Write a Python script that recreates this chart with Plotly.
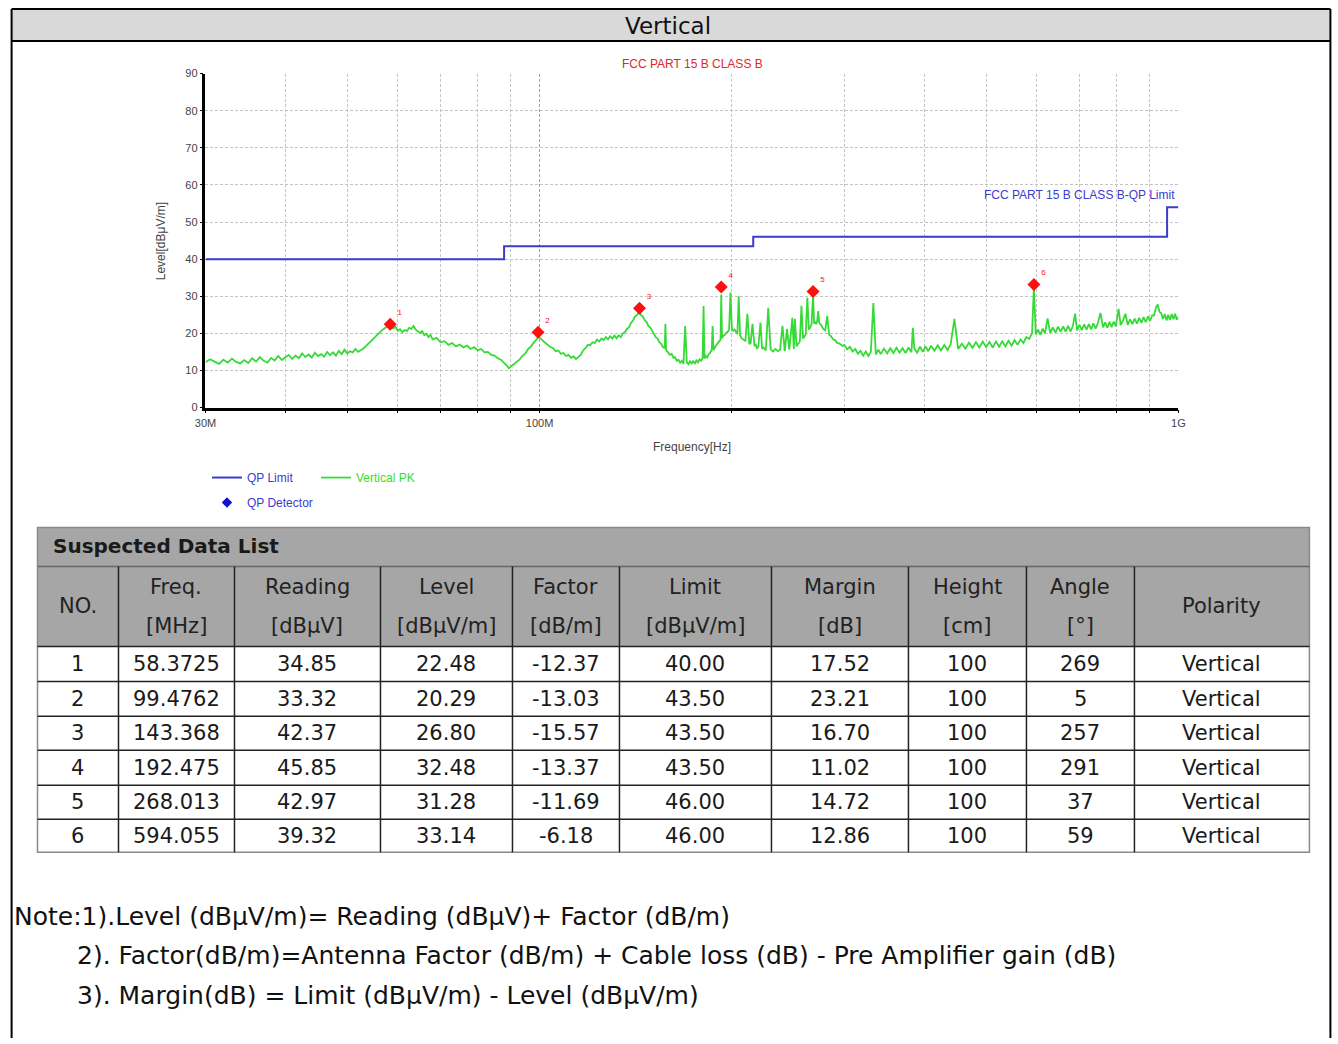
import plotly.graph_objects as go

W, H = 1338, 1044

# ---------------- data ----------------
# Peak scan (Vertical PK), MHz / dBuV/m
pk_freq_a = [30.0, 30.5, 31.0, 31.5, 32.0, 32.5, 33.0, 33.5, 34.0, 34.5, 35.0, 35.5, 36.0, 36.5, 37.0, 37.5,
             38.0, 38.5, 39.0, 39.5, 40.0, 40.5, 41.0, 41.5, 42.0, 42.5, 43.0, 43.5, 44.0, 44.5, 45.0, 45.5,
             46.0, 46.5, 47.0, 47.5, 48.0, 48.5, 49.0, 49.5, 50.0,
             50.5, 51, 51.5, 52, 52.5, 53, 53.5, 54, 54.5, 55, 55.5, 56, 56.5, 57, 57.5, 58, 58.4, 59, 59.5, 60,
             60.5, 61, 61.5, 62, 62.5, 63, 63.5, 64, 64.5, 65, 65.5, 66, 66.5, 67, 67.5, 68, 69, 70, 71, 72,
             73, 74, 75, 76, 77, 78, 79, 80, 81, 82, 83, 84, 85, 86, 87, 88, 89, 89.5, 90, 91,
             92, 93, 94, 95, 96, 97, 98, 99, 99.5]
pk_level_a = [12.2, 13.0, 12.4, 11.8, 12.9, 12.1, 13.2, 12.3, 11.9, 12.8, 12.0, 13.3, 12.4, 13.6, 12.6, 12.1,
              13.4, 12.7, 13.9, 12.8, 13.5, 14.2, 13.1, 14.0, 13.3, 14.6, 13.6, 14.3, 13.5, 14.8, 13.9, 14.4,
              13.7, 15.0, 14.1, 14.9, 14.0, 15.3, 14.4, 15.6, 14.6,
              15.2, 14.9, 15.8, 15.0, 15.4, 15.9, 16.6, 17.2, 17.9, 18.6, 19.3, 20.1, 20.6, 21.2, 21.6, 22.0, 22.4, 21.3, 21.8, 20.7,
              21.1, 20.3, 20.9, 20.6, 21.5, 21.2, 22.0, 21.0, 20.6, 20.1, 20.6, 19.5, 19.9, 19.0, 19.6, 18.4, 18.8, 17.6, 17.9, 16.9,
              17.4, 16.5, 17.0, 16.2, 16.7, 15.8, 16.3, 15.4, 15.8, 14.9, 15.0, 14.2, 14.0, 13.3, 12.9, 12.1, 11.2, 10.6, 10.9, 11.5,
              12.3, 12.9, 13.9, 14.6, 15.8, 16.5, 17.6, 18.4, 19.1]

pk_freq_b = [100.5, 101.5, 102.5, 104, 105, 106, 107, 108, 109, 110, 111, 112, 113, 114, 115, 116, 117, 118, 119, 120,
             121, 122, 123, 124, 125, 126, 127, 128, 129, 130, 131, 132, 133, 134, 135, 136, 137, 138, 139, 140,
             141, 142, 143.4, 144, 145, 146, 147, 148, 149, 150, 151, 152, 153, 154, 155, 156, 157, 157.4, 157.8, 159,
             160, 161, 162, 163, 164, 165, 166, 167, 168, 169, 170, 171, 172, 173, 174, 175, 176, 177, 178, 179,
             180, 180.6, 181.2, 182, 183, 184, 185, 186, 186.6, 187.2, 188, 189, 190, 191, 192, 192.5, 193, 194, 195, 196,
             197, 198, 199, 200, 201, 202, 203, 204, 205, 206, 207, 208, 209, 210, 211.5, 213, 214, 215.4, 217, 218,
             219, 220, 221.7, 223, 224, 226, 228, 230, 232, 234, 236, 238, 240, 242, 244, 246, 248.7, 250, 251, 252.5,
             254, 255.5, 257, 258.5, 260, 261, 262.5, 264, 265.5, 266.5, 268, 269, 270, 271, 272, 273, 274, 276, 278, 280,
             282, 284, 286, 288, 290, 292, 295, 298]
pk_level_b = [18.6, 17.8, 17.2, 16.3, 16.0, 15.2, 15.4, 14.5, 14.7, 13.9, 14.2, 13.4, 13.8, 13.1, 13.6, 14.2, 15.4, 16.0, 16.9, 16.8,
              17.6, 17.4, 18.3, 17.8, 18.6, 18.2, 19.0, 18.4, 19.2, 18.6, 19.4, 18.7, 19.5, 19.0, 20.0, 20.3, 21.2, 21.6, 22.8, 23.4,
              24.5, 24.9, 25.8, 25.0, 24.6, 23.6, 23.1, 22.0, 21.6, 20.6, 20.0, 19.0, 18.6, 17.6, 17.2, 16.3, 16.0, 22.6, 15.5, 14.9,
              14.2, 14.5, 13.4, 13.6, 12.6, 12.9, 12.1, 12.6, 11.8, 22.0, 12.2, 11.7, 12.5, 11.9, 12.6, 11.8, 12.7, 12.2, 13.0, 12.6,
              13.4, 27.4, 13.2, 13.9, 13.5, 14.4, 14.8, 15.6, 22.0, 15.5, 16.2, 16.8, 17.3, 17.8, 18.3, 30.5, 18.7, 19.4, 19.6, 20.2,
              20.4, 21.0, 31.0, 21.2, 20.7, 21.0, 20.2, 19.8, 30.0, 19.5, 18.8, 18.5, 18.0, 17.9, 25.3, 17.1, 17.4, 22.6, 16.6, 16.9,
              16.0, 16.4, 22.9, 15.8, 16.2, 15.4, 26.9, 15.7, 15.1, 15.8, 15.2, 15.6, 22.0, 15.2, 21.2, 15.6, 24.2, 15.8, 23.9, 16.5,
              17.2, 17.8, 27.4, 18.6, 19.2, 19.8, 29.6, 21.0, 21.8, 22.4, 30.5, 22.6, 23.2, 22.5, 23.4, 26.0, 22.8, 22.2, 21.2, 20.8,
              24.7, 19.6, 19.2, 18.4, 18.2, 17.5, 17.2, 16.6]

pk_freq_c = [300, 303, 306, 309, 312, 315, 318, 321, 324, 327, 330, 333, 336, 339, 342, 346, 350, 354, 358, 362,
             366, 370, 374, 378, 382, 384, 386, 390, 394, 398, 402, 406, 410, 415, 420, 425, 430, 435, 440, 446,
             452, 458, 464, 470, 476, 482, 488, 494, 500, 506, 512, 518, 524, 530, 536, 542, 548, 554, 560, 566,
             572, 578, 584, 590, 594, 598, 603, 608, 613, 618, 624, 630, 636, 642, 648, 654, 660, 666, 672, 678,
             684, 689, 694, 700, 706, 712, 718, 724, 730, 736, 742, 748, 755, 762, 768, 774, 780, 786, 792, 798,
             806, 812, 819, 826, 833, 840, 847, 854, 861, 868, 875, 882, 889, 896, 903, 910, 916, 922, 928, 934,
             940, 946, 952, 958, 964, 970, 976, 982, 988, 994, 1000]
pk_level_c = [16.9, 15.7, 16.4, 15.1, 15.8, 14.5, 15.3, 14.0, 15.1, 13.9, 15.0, 28.2, 14.3, 15.6, 14.4, 15.9, 14.6, 16.0, 14.7, 16.1,
              14.8, 16.0, 14.7, 16.2, 14.9, 21.5, 15.9, 14.8, 16.4, 15.0, 16.5, 15.2, 16.7, 15.3, 16.8, 15.4, 16.9, 15.5, 17.0, 23.9,
              15.8, 17.2, 15.9, 17.5, 16.1, 17.6, 16.2, 17.8, 16.3, 17.7, 16.2, 17.8, 16.4, 17.9, 16.5, 18.0, 16.7, 18.2, 16.9, 18.4,
              17.4, 19.0, 18.5, 20.0, 32.5, 19.7, 21.0, 19.6, 21.3, 20.0, 24.0, 20.1, 21.6, 20.2, 21.8, 20.4, 21.9, 20.5, 22.0, 20.5,
              22.2, 25.3, 20.8, 22.3, 20.9, 22.4, 21.0, 22.5, 21.1, 22.7, 21.3, 22.8, 25.5, 21.6, 23.0, 21.5, 23.1, 21.7, 23.2, 21.9,
              26.6, 22.2, 23.5, 25.3, 22.3, 23.8, 22.5, 24.0, 22.6, 24.2, 22.8, 24.4, 23.0, 24.6, 23.4, 24.9, 24.8, 26.9, 27.8, 25.8,
              25.4, 23.9, 25.2, 23.5, 25.0, 23.6, 25.2, 23.8, 25.3, 23.7, 24.4]

# QP limit (FCC Part 15 B Class B), step edges
limit_freq = [30, 88, 216, 960, 1000]
limit_level = [40, 43.5, 46, 54, 54]

# Suspected data list
qp_no = [1, 2, 3, 4, 5, 6]
qp_freq = [58.3725, 99.4762, 143.368, 192.475, 268.013, 594.055]
qp_reading = [34.85, 33.32, 42.37, 45.85, 42.97, 39.32]
qp_level = [22.48, 20.29, 26.80, 32.48, 31.28, 33.14]
qp_factor = [-12.37, -13.03, -15.57, -13.37, -11.69, -6.18]
qp_limit = [40.00, 43.50, 43.50, 43.50, 46.00, 46.00]
qp_margin = [17.52, 23.21, 16.70, 11.02, 14.72, 12.86]
qp_height = [100, 100, 100, 100, 100, 100]
qp_angle = [269, 5, 257, 291, 37, 59]
qp_polarity = ["Vertical"] * 6

header_top = ["NO.", "Freq.", "Reading", "Level", "Factor", "Limit", "Margin", "Height", "Angle", "Polarity"]
header_bottom = ["", "[MHz]", "[dBμV]", "[dBμV/m]", "[dB/m]", "[dBμV/m]", "[dB]", "[cm]", "[°]", ""]

x_major = [30, 100, 1000]
x_major_text = ["30M", "100M", "1G"]
x_minor = [40, 50, 60, 70, 80, 90, 200, 300, 400, 500, 600, 700, 800, 900]

notes = ["Note:1).Level (dBμV/m)= Reading (dBμV)+ Factor (dB/m)",
         "2). Factor(dB/m)=Antenna Factor (dB/m) + Cable loss (dB) - Pre Amplifier gain (dB)",
         "3). Margin(dB) = Limit (dBμV/m) - Level (dBμV/m)"]

assert len(pk_freq_a) == len(pk_level_a)
assert len(pk_freq_b) == len(pk_level_b)
assert len(pk_freq_c) == len(pk_level_c)
pk_freq = pk_freq_a + pk_freq_b + pk_freq_c
pk_level = pk_level_a + pk_level_b + pk_level_c

# ---------------- helpers ----------------
FONT = "Liberation Sans, Arial, sans-serif"
TFONT = "DejaVu Sans, Liberation Sans, sans-serif"
SMALL = 12

# photographed page is slightly offset/scaled; positions below are in reference pixels
OX, SX = 10.5, 0.9866
OY, SY = 5.08, 0.9893


def px(x):
    v = ((x - OX) / SX) / W
    return min(max(v, 0.6 / W), 1 - 0.6 / W)


def py(y):
    v = 1 - ((y - OY) / SY) / H
    return min(max(v, 0.0), 1.0)


BLUE = "#3b3bcc"
GREEN = "#36da36"
RED = "#ff1010"
GRID = "#c4c4c4"

fig = go.Figure()

fig.add_trace(go.Scatter(x=pk_freq, y=pk_level, mode="lines",
                         line=dict(color=GREEN, width=1.8),
                         name=f"<span style='color:{GREEN}'>Vertical PK</span>", legend="legend"))
fig.add_trace(go.Scatter(x=limit_freq, y=limit_level, mode="lines", line_shape="hv",
                         line=dict(color=BLUE, width=2),
                         name=f"<span style='color:{BLUE}'>QP Limit</span>", legend="legend"))
fig.add_trace(go.Scatter(x=qp_freq, y=qp_level, mode="markers+text",
                         marker=dict(symbol="diamond", size=10, color=RED),
                         text=[str(n) for n in qp_no], textposition="top right",
                         textfont=dict(size=8, color=RED, family=FONT),
                         showlegend=False))
fig.add_trace(go.Scatter(x=[None], y=[None], mode="markers",
                         marker=dict(symbol="diamond", size=8, color="#1010d0"),
                         name=f"<span style='color:{BLUE}'>QP Detector</span>", legend="legend2"))

fig.update_layout(
    width=W, height=H, margin=dict(l=0, r=0, t=0, b=0),
    paper_bgcolor="white", plot_bgcolor="white",
    font=dict(family=FONT, size=SMALL, color="#444"),
    xaxis=dict(type="log", domain=[px(205), px(1178)], range=[1.47712, 3.0],
               tickmode="array", tickvals=x_major, ticktext=x_major_text,
               showgrid=True, gridcolor="#a0a0a0", griddash="3px,2px", gridwidth=1,
               showline=True, linecolor="black", linewidth=2.5,
               ticks="outside", ticklen=3, tickcolor="black",
               tickfont=dict(size=11, color="#444"), zeroline=False,
               minor=dict(tickmode="array", tickvals=x_minor, showgrid=True, gridcolor=GRID,
                          griddash="3px,2px", ticks="outside", ticklen=3, tickcolor="black")),
    yaxis=dict(domain=[py(407), py(72.7)], range=[0, 90], dtick=10, tick0=0,
               showgrid=True, gridcolor=GRID, griddash="3px,2px",
               showline=True, linecolor="black", linewidth=2.5,
               ticks="outside", ticklen=3, tickcolor="black",
               tickfont=dict(size=11, color="#444"), zeroline=False),
    legend=dict(x=px(206.5), y=py(477), xanchor="left", yanchor="middle", orientation="h",
                font=dict(size=SMALL), entrywidth=64, bgcolor="rgba(0,0,0,0)", traceorder="reversed"),
    legend2=dict(x=px(206.5), y=py(502), xanchor="left", yanchor="middle", orientation="h",
                 font=dict(size=SMALL), bgcolor="rgba(0,0,0,0)"),
    showlegend=True,
)

shapes = []
ann = []


def rect(x0, y0, x1, y1, fill=None, color=None, width=0):
    shapes.append(dict(type="rect", xref="paper", yref="paper",
                       x0=px(x0), x1=px(x1), y0=py(y1), y1=py(y0),
                       fillcolor=fill if fill else "rgba(0,0,0,0)",
                       line=dict(color=color if color else "rgba(0,0,0,0)", width=width),
                       layer="below"))


def line(x0, y0, x1, y1, color="black", width=1):
    shapes.append(dict(type="line", xref="paper", yref="paper",
                       x0=px(x0), x1=px(x1), y0=py(y0), y1=py(y1),
                       line=dict(color=color, width=width), layer="above"))


def text(x, y, s, size=21, color="#1a1a1a", xanchor="center", bold=False, angle=0, family=TFONT):
    ann.append(dict(xref="paper", yref="paper", x=px(x), y=py(y), text=f"<b>{s}</b>" if bold else s,
                    showarrow=False, xanchor=xanchor, yanchor="middle", textangle=angle,
                    font=dict(size=size, color=color, family=family)))


# page frame + header
rect(5, 8, 1334, 40, fill="#d9d9d9")
line(5, 8, 1334, 8, width=2)
line(5, 40, 1334, 40, width=2)
line(5, 8, 5, 1050, width=2)
line(1334, 8, 1334, 1050, width=2)
text(668, 25, "Vertical", size=23, color="#111")

# chart texts
text(692, 63, "FCC PART 15 B CLASS B", size=SMALL, color="#e02828", family=FONT)
text(1177, 194, "FCC PART 15 B CLASS B-QP Limit", size=SMALL, color=BLUE, xanchor="right", family=FONT)
text(160, 240, "Level[dBμV/m]", size=SMALL, color="#444", angle=-90, family=FONT)
text(692, 446, "Frequency[Hz]", size=SMALL, color="#444", family=FONT)

# table
col_edges = [37, 118, 234, 380, 512, 619, 771, 908, 1026, 1134, 1309]
row_edges = [646, 681, 716, 750, 785, 819, 852]
t_top, h_top = 527, 566
rect(37, t_top, 1309, h_top, fill="#a6a6a6")
rect(37, h_top, 1309, 646, fill="#a6a6a6")
rect(37, t_top, 1309, 852, color="#8a8a8a", width=1.5)
line(37, h_top, 1309, h_top, color="#666", width=1.5)
for xe in col_edges[1:-1]:
    line(xe, h_top, xe, 852, color="#222", width=1.5)
for ye in row_edges[:-1]:
    line(37, ye, 1309, ye, color="#222", width=1.5)
text(51, 546, "Suspected Data List", size=20, color="#1a1a1a", xanchor="left", bold=True)

centers = [(col_edges[i] + col_edges[i + 1]) / 2 for i in range(len(col_edges) - 1)]
for i, c in enumerate(centers):
    if header_bottom[i]:
        text(c, 587, header_top[i], color="#222")
        text(c, 626, header_bottom[i], color="#222")
    else:
        text(c, 606, header_top[i], color="#222")

for r in range(len(qp_no)):
    cells = [str(qp_no[r]), f"{qp_freq[r]:.6g}", f"{qp_reading[r]:.2f}", f"{qp_level[r]:.2f}",
             f"{qp_factor[r]:.2f}", f"{qp_limit[r]:.2f}", f"{qp_margin[r]:.2f}",
             str(qp_height[r]), str(qp_angle[r]), qp_polarity[r]]
    yc = (row_edges[r] + row_edges[r + 1]) / 2
    for i, s in enumerate(cells):
        text(centers[i], yc, s)

# notes
text(4, 916, notes[0], size=25, xanchor="left", color="#111")
text(75, 955, notes[1], size=25, xanchor="left", color="#111")
text(75, 995, notes[2], size=25, xanchor="left", color="#111")

fig.update_layout(shapes=shapes, annotations=ann)
fig.write_html(
    "out.html",
    config={"displayModeBar": False},
    post_script=("document.documentElement.style.margin='0';document.body.style.margin='0';"
                 "document.body.style.overflow='hidden';"
                 "var d=document.getElementById('{plot_id}');d.style.position='fixed';"
                 "d.style.left='0px';d.style.top='0px';"),
)
